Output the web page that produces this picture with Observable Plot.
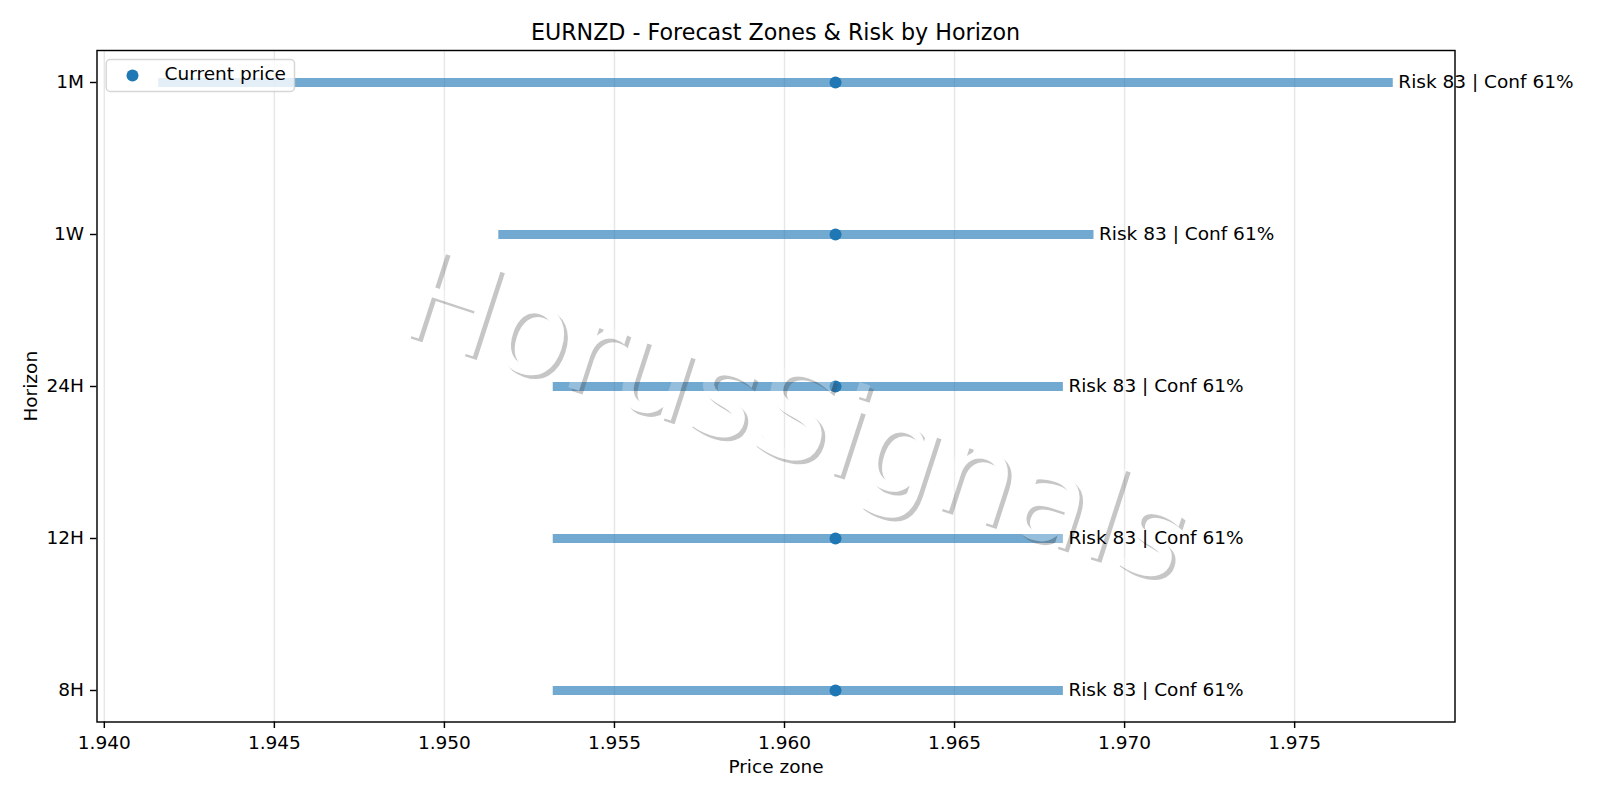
<!DOCTYPE html>
<html><head><meta charset="utf-8">
<script src="https://cdn.jsdelivr.net/npm/d3@7"></script>
<script src="https://cdn.jsdelivr.net/npm/@observablehq/plot@0.6"></script>
<style>
html,body{margin:0;background:#fff;font-family:"DejaVu Sans",sans-serif;overflow:hidden;}
#title{height:40px;box-sizing:border-box;padding:21px 145.5px 0 96.5px;line-height:22px;font-size:22.2px;text-align:center;color:#000;white-space:nowrap;}
svg{display:block;}
</style></head><body>
<div id="title"></div>
<div id="chart"></div>
<script>
// ---- data ----
const chartTitle = "EURNZD - Forecast Zones & Risk by Horizon";
const horizons = ["1M", "1W", "24H", "12H", "8H"];
const zoneLow = [1.9416, 1.9516, 1.9532, 1.9532, 1.9532];
const zoneHigh = [1.9779, 1.9691, 1.9682, 1.9682, 1.9682];
const currentPrice = [1.9615, 1.9615, 1.9615, 1.9615, 1.9615];
const riskScore = [83, 83, 83, 83, 83];
const confidence = [61, 61, 61, 61, 61];
const xTicks = [1.940, 1.945, 1.950, 1.955, 1.960, 1.965, 1.970, 1.975];
const xLabel = ["Price zone"];
const yLabel = ["Horizon"];
const legendLabel = ["Current price"];
const watermarkText = "HorusSignals";

document.getElementById("title").textContent = chartTitle;

const rows = horizons.map((h, i) => ({
  h, lo: zoneLow[i], hi: zoneHigh[i], cur: currentPrice[i],
  label: `Risk ${riskScore[i]} | Conf ${confidence[i]}%`
}));

const xmin = d3.min(zoneLow), xmax = d3.max(zoneHigh), pad = (xmax - xmin) * 0.05;
const blue = "#1f77b4";

const chart = Plot.plot({
  width: 1600, height: 760,
  marginTop: 10, marginBottom: 78.5, marginLeft: 96.5, marginRight: 145.5,
  style: {fontFamily: "DejaVu Sans", fontSize: "18.5px", color: "#000", background: "#fff", overflow: "visible"},
  x: {domain: [xmin - pad, xmax + pad]},
  y: {type: "point", domain: horizons, padding: 0.2},
  marks: [
    Plot.gridX(xTicks, {stroke: "#b0b0b0", strokeOpacity: 0.3, strokeWidth: 1.45}),
    Plot.ruleY(rows, {y: "h", x1: "lo", x2: "hi", stroke: blue, strokeOpacity: 0.63, strokeWidth: 9}),
    Plot.dot(rows, {x: "cur", y: "h", r: 6, fill: blue}),
    Plot.text(rows, {x: "hi", y: "h", text: "label", textAnchor: "start", lineAnchor: "middle", dx: 5, fill: "#000"}),
    Plot.frame({stroke: "#000", strokeWidth: 1.45}),
    Plot.axisX(xTicks, {tickFormat: d3.format(".3f"), tickSize: 6.5, tickPadding: 7, strokeWidth: 1.45, label: null}),
    Plot.axisY(horizons, {tickSize: 6.5, tickPadding: 6.5, strokeWidth: 1.45, label: null}),
    Plot.text(xLabel, {frameAnchor: "bottom", textAnchor: "middle", lineAnchor: "middle", dy: 45.5, fill: "#000"}),
    Plot.text(yLabel, {frameAnchor: "left", textAnchor: "middle", lineAnchor: "middle", dx: -66, rotate: -90, fill: "#000"}),
    // legend
    Plot.frame({insetLeft: 9.2, insetTop: 9, insetRight: 1160.5, insetBottom: 630.5, fill: "white", fillOpacity: 0.8, stroke: "#cccccc", strokeOpacity: 0.8, strokeWidth: 1.45, rx: 4}),
    Plot.dot([0], {frameAnchor: "top-left", dx: 35.5, dy: 25, r: 6, fill: blue}),
    Plot.text(legendLabel, {frameAnchor: "top-left", textAnchor: "start", lineAnchor: "middle", dx: 67.6, dy: 23.5, fill: "#000"})
  ]
});
document.getElementById("chart").appendChild(chart);

// ---- watermark (decoration) ----
const svg = d3.select(chart);
const wx = 783, wy = 417, rot = 18, wfs = 125;
const defs = svg.append("defs");
const mask = defs.append("mask").attr("id", "wmMask").attr("maskUnits", "userSpaceOnUse")
  .attr("x", 0).attr("y", 0).attr("width", 1600).attr("height", 760);
mask.append("rect").attr("width", 1600).attr("height", 760).attr("fill", "white");
const setT = (sel, ox, oy) => sel.text(watermarkText)
  .attr("transform", `translate(${wx + ox},${wy + oy}) rotate(${rot})`)
  .attr("text-anchor", "middle").attr("font-size", wfs).attr("font-family", "DejaVu Sans");
setT(mask.append("text"), 0, 0).attr("fill", "black");
const wg = svg.append("g").attr("aria-label", "watermark");
setT(wg.append("g").attr("mask", "url(#wmMask)").append("text"), 3.7, 3.7).attr("fill", "#4d4d4d").attr("fill-opacity", 0.32);
setT(wg.append("text"), 0, 0).attr("fill", "white").attr("fill-opacity", 0.25);

// keep value labels above the watermark
svg.selectAll("text").filter(function() { return this.textContent.startsWith("Risk"); })
  .each(function() { d3.select(this.parentNode).raise(); });
</script>
</body></html>
